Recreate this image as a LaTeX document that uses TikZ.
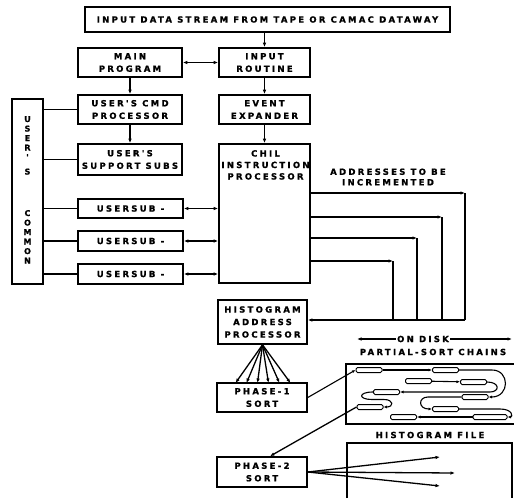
\documentclass[tikz,border=0pt]{standalone}
\usepackage{fontspec}
\newfontfamily\lblfont[LetterSpace=27, FakeBold=1.2]{DejaVu Sans Bold}
\newfontfamily\colfont[FakeBold=1.2]{DejaVu Sans Bold}
\usetikzlibrary{arrows.meta}

\begin{document}
\begin{tikzpicture}[x=1pt, y=-1pt,
  box/.style={draw, line width=1.6pt, align=center, inner sep=0pt,
    font=\lblfont\fontsize{8.5}{12.5}\selectfont},
  lbl/.style={font=\lblfont\fontsize{8.5}{10.5}\selectfont, align=center, inner sep=1pt},
  cell/.style={draw, line width=1pt, rounded corners=1.5pt, minimum width=26pt,
    minimum height=5pt, inner sep=0pt},
  wire/.style={line width=1.3pt},
  arr/.style={wire, -{Latex[length=4.5pt,width=3.5pt]}},
  darr/.style={wire, {Latex[length=4.5pt,width=3.5pt]}-{Latex[length=4.5pt,width=3.5pt]}},
  carr/.style={line width=1.1pt, -{Latex[length=3.5pt,width=3pt]}}]

  \useasboundingbox (0,0) rectangle (514,498);

  % input side
  \node[box, minimum width=365pt, minimum height=25pt] (tape) at (267.5,19.5)
    {INPUT DATA STREAM FROM TAPE OR CAMAC DATAWAY};
  \node[box, minimum width=104pt, minimum height=29pt] (main) at (130,62.5) {MAIN\\PROGRAM};
  \node[box, minimum width=91pt, minimum height=29pt] (inrt) at (264.5,62.5) {INPUT\\ROUTINE};
  \node[box, minimum width=104pt, minimum height=29pt] (cmd) at (130,109.5) {USER'S CMD\\PROCESSOR};
  \node[box, minimum width=91pt, minimum height=29pt] (evt) at (264.5,109.5) {EVENT\\EXPANDER};
  \node[box, minimum width=104pt, minimum height=31pt] (subs) at (130,159.5) {USER'S\\SUPPORT SUBS};
  \node[box, minimum width=91pt, minimum height=139pt] (chil) at (264.5,213.5) {};
  \node[lbl, font=\lblfont\fontsize{8.5}{11.5}\selectfont, anchor=north] (chiltxt) at (265.5,149)
    {CHIL\\INSTRUCTION\\PROCESSOR};

  % common block, letters stacked
  \node[box, minimum width=31pt, minimum height=185pt] (common) at (27.5,191.5) {};
  \node[lbl, font=\colfont\fontsize{8}{9.5}\selectfont, anchor=north] (commtxt) at (27.5,115)
    {U\\S\\E\\R\\'\\[5pt]S\\[32pt]C\\O\\M\\M\\O\\N};

  \node[box, minimum width=105pt, minimum height=19pt] (us1) at (130.5,208.5) {USERSUB -};
  \node[box, minimum width=105pt, minimum height=20pt] (us2) at (130.5,241) {USERSUB -};
  \node[box, minimum width=105pt, minimum height=20pt] (us3) at (130.5,274) {USERSUB -};

  \node[box, minimum width=89pt, minimum height=44pt] (hap) at (262.5,322) {HISTOGRAM\\ADDRESS\\PROCESSOR};
  \node[box, minimum width=90pt, minimum height=29pt] (ph1) at (262,397.5) {PHASE-1\\SORT};
  \node[box, minimum width=90pt, minimum height=30pt] (ph2) at (262,472) {PHASE-2\\SORT};

  \draw[arr] (inrt.north |- tape.south) -- (inrt.north);
  \draw[darr] (main.east) -- (inrt.west);
  \draw[arr] (main) -- (cmd);
  \draw[arr] (cmd) -- (subs);
  \draw[arr] (inrt) -- (evt);
  \draw[arr] (evt) -- (chil);
  \foreach \b in {cmd,subs,us1,us2,us3}
    \draw[wire] (common.east |- \b.west) -- (\b.west);
  \foreach \b in {us1,us2,us3}
    \draw[darr] (\b.east) -- (chil.west |- \b.east);

  % addresses bus
  \node[lbl] (addr) at (388,177) {ADDRESSES TO BE\\INCREMENTED};
  \foreach \y/\x [count=\i] in {193/465, 217/442, 238/417, 261/393} {
    \coordinate (k\i) at (\x,\y);
    \coordinate (b\i) at (\x,320);
    \draw[arr] (chil.east |- k\i) -- (k\i);
    \draw[wire] (k\i) -- (b\i);
  }
  \draw[arr] (b1) -- (hap.east |- b1);

  % fan into phase-1
  \foreach \x in {235.5,246.5,257.5,268.5,279.5,290.5}
    \draw[arr] (hap.south) -- (\x,383);

  % disk
  \draw[darr] (357,339) -- (512,339);
  \node[lbl, fill=white] (disk) at (423,339) {ON DISK};
  \node[lbl] (chains) at (433,352) {PARTIAL-SORT CHAINS};
  \draw[wire] (514,364) -- (346,364) -- (346,424) -- (514,424);
  \node[lbl] (hfile) at (430,435) {HISTOGRAM FILE};
  \draw[wire] (347,498) -- (347,443) -- (512,443) -- (512,498);

  % chain cells
  \node[cell] (ca) at (369,370) {};
  \node[cell] (cb) at (445.5,370) {};
  \node[cell] (cc) at (418.5,381) {};
  \node[cell] (cd) at (473.5,382) {};
  \node[cell] (ce) at (386.5,392) {};
  \node[cell] (cf) at (475,397) {};
  \node[cell] (cg) at (370,407) {};
  \node[cell] (ch) at (445.5,409) {};
  \node[cell] (ci) at (403.5,417) {};
  \node[cell, minimum width=34pt] (cj) at (490,417) {};

  \draw[carr] (ca) -- (cb);
  \draw[carr] (cb.east) -- (492,370) .. controls (510,370) and (510,397) .. (cf.east);
  \draw[carr] (cc) -- (cd);
  \draw[carr] (cd.east) .. controls (500,382) and (500,392) .. (490,392) -- (ce.east);
  \draw[carr] (ce.west) .. controls (358,392) and (358,399.5) .. (372,399.5) -- (384,399.5)
    .. controls (394,399.5) and (394,407) .. (cg.east);
  \draw[carr] (cf.west) -- (428,397) .. controls (418,397) and (418,409) .. (ch.west);
  \draw[carr] (ch.east) -- (500,409) .. controls (513,409) and (513,417) .. (cj.east);
  \draw[carr] (cj.west) -- (ci.east);

  % sort links
  \draw[carr] (ph1.east) -- (ca.west);
  \draw[arr] (cg.west) -- ([xshift=8pt]ph2.north);
  \coordinate (h1) at (440,457);
  \coordinate (h2) at (455,473);
  \coordinate (h3) at (440,486);
  \foreach \h in {h1,h2,h3}
    \draw[arr] (ph2.east) -- (\h);
\end{tikzpicture}
\end{document}
